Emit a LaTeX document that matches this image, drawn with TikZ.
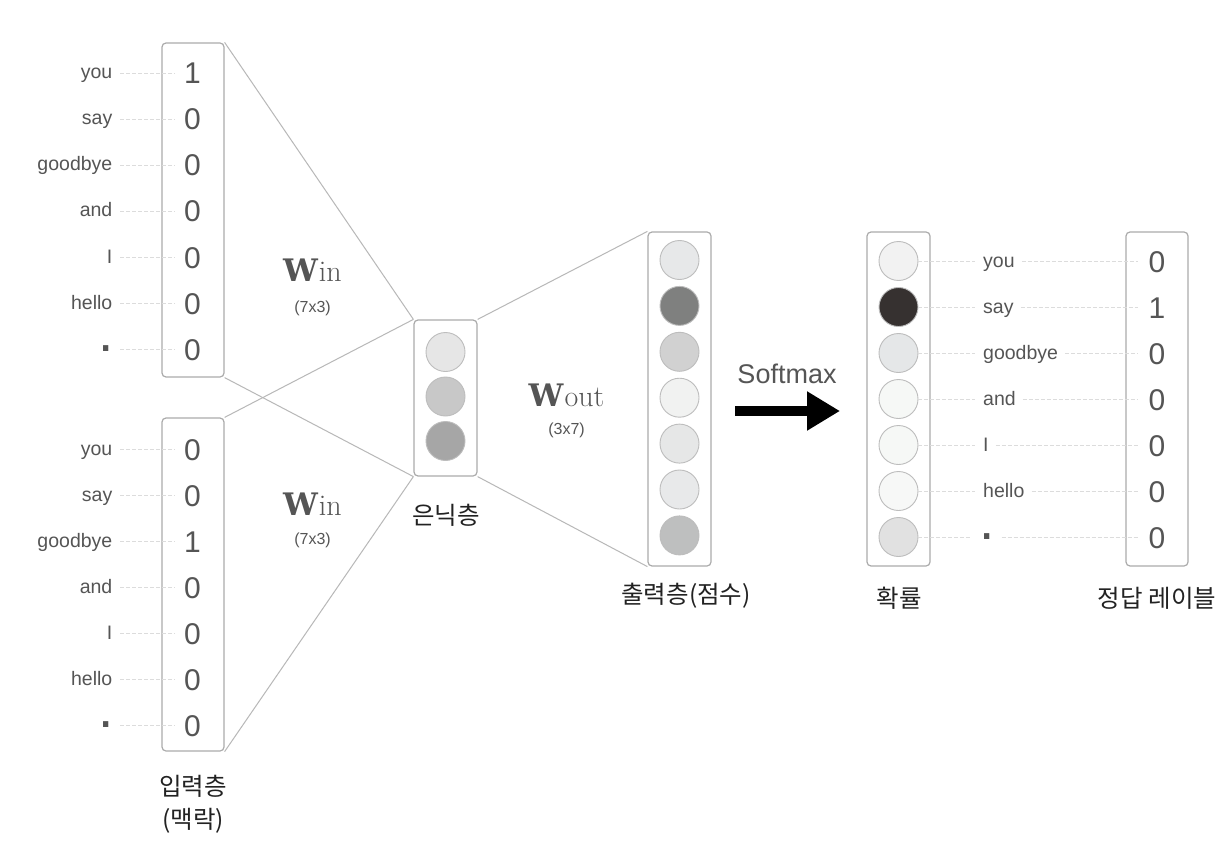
\documentclass[tikz,border=0pt]{standalone}
\usepackage{fontspec}
\setsansfont{Liberation Sans}
\newfontfamily\krfont{Noto Sans CJK KR}
\newfontfamily\wfont{DejaVu Serif}
\usetikzlibrary{arrows.meta}
\definecolor{txtc}{HTML}{555555}
\definecolor{boxc}{HTML}{ABABAB}
\definecolor{fanc}{HTML}{B8B8B8}
\definecolor{dashc}{HTML}{DCDCDC}
\definecolor{circc}{HTML}{BDBDBD}
\definecolor{korc}{HTML}{222222}
\tikzset{
  box/.style={draw=boxc, line width=1.2pt, rounded corners=4pt, minimum width=62pt, inner sep=0pt},
  neuron/.style={circle, draw=circc, line width=0.9pt, minimum size=39pt, inner sep=0pt},
  fan/.style={draw=fanc, line width=1pt},
  guide/.style={draw=dashc, line width=0.8pt, dash pattern=on 4pt off 2pt},
  lab/.style={font=\sffamily\fontsize{19.5}{20}\selectfont, text=txtc, inner sep=0pt, text height=14pt, text depth=2pt},
  dotlab/.style={font=\sffamily\fontsize{55}{55}\selectfont, text=txtc, inner sep=0pt, text height=5.5pt, text depth=0pt},
  dig/.style={font=\sffamily\fontsize{30}{30}\selectfont, text=txtc, inner sep=0pt, text height=24pt, text depth=2pt},
  kor/.style={font=\krfont\fontsize{24.5}{33}\selectfont, text=korc, align=center, inner sep=0pt},
  wlab/.style={text=txtc, inner sep=0pt},
  dimlab/.style={font=\sffamily\fontsize{16}{16}\selectfont, text=txtc, inner sep=0pt},
  smlab/.style={font=\sffamily\fontsize{27}{27}\selectfont, text=txtc, inner sep=0pt},
}
\newcommand{\wsym}[1]{{\wfont\fontsize{31}{31}\selectfont\bfseries W}\kern1pt{\fontsize{30}{30}\selectfont #1}}
\begin{document}
\begin{tikzpicture}[x=1pt,y=-1pt]
\fill[white] (0,0) rectangle (1230,842);
\useasboundingbox (0,0) rectangle (1230,842);

% boxes
\node[box, minimum height=334pt] (inT) at (193,210) {};
\node[box, minimum height=333pt] (inB) at (193,584.5) {};
\node[box, minimum width=63pt, minimum height=156pt] (hid) at (445.5,398) {};
\node[box, minimum width=63pt, minimum height=334pt] (outL) at (679.5,399) {};
\node[box, minimum width=63pt, minimum height=334pt] (prob) at (898.5,399) {};
\node[box, minimum height=334pt] (ans) at (1157,399) {};

% fan lines
\draw[fan] (inT.north east) -- (hid.north west);
\draw[fan] (inT.south east) -- (hid.south west);
\draw[fan] (inB.north east) -- (hid.north west);
\draw[fan] (inB.south east) -- (hid.south west);
\draw[fan] (hid.north east) -- (outL.north west);
\draw[fan] (hid.south east) -- (outL.south west);

% top input
\foreach \d [count=\i] in {1,0,0,0,0,0,0} {
  \node[dig] (ta\i) at (192.5,{73+46*(\i-1)}) {\d};
  \coordinate (tg\i) at (120,{73+46*(\i-1)});
  \draw[guide] (tg\i) -- ([xshift=-9pt]ta\i.west);
}
\foreach \w [count=\i] in {you,say,goodbye,and,I,hello} {
  \node[lab, anchor=east] (tl\i) at (112.5,{73+46*(\i-1)}) {\w};
}
\node[dotlab, anchor=east] (tl7) at (114,349) {.};

% bottom input
\foreach \d [count=\i] in {0,0,1,0,0,0,0} {
  \node[dig] (ba\i) at (192.5,{449+46*(\i-1)}) {\d};
  \coordinate (bg\i) at (120,{449+46*(\i-1)});
  \draw[guide] (bg\i) -- ([xshift=-9pt]ba\i.west);
}
\foreach \w [count=\i] in {you,say,goodbye,and,I,hello} {
  \node[lab, anchor=east] (bl\i) at (112.5,{449+46*(\i-1)}) {\w};
}
\node[dotlab, anchor=east] (bl7) at (114,725) {.};

% hidden layer
\foreach \c [count=\i] in {E6E6E6,C8C8C8,A6A6A6} {
  \definecolor{tmpc}{HTML}{\c}
  \node[neuron, fill=tmpc] (h\i) at (445.5,{352+44.5*(\i-1)}) {};
}

% output layer
\foreach \c [count=\i] in {E7E8E9,7F807F,D1D1D1,F1F2F1,E6E7E7,E8E9EA,BEBFBF} {
  \definecolor{tmpc}{HTML}{\c}
  \node[neuron, fill=tmpc] (o\i) at (679.5,{260+45.9*(\i-1)}) {};
}

% probability layer
\foreach \c [count=\i] in {F2F2F2,363130,E5E7E8,F6F8F6,F6F8F6,F7F8F7,E1E1E1} {
  \definecolor{tmpc}{HTML}{\c}
  \node[neuron, fill=tmpc] (p\i) at (898.5,{261+46*(\i-1)}) {};
}

% right labels and answers
\foreach \w [count=\i] in {you,say,goodbye,and,I,hello} {
  \node[lab, anchor=west] (rl\i) at (983,{261+46*(\i-1)}) {\w};
}
\node[dotlab, anchor=west] (rl7) at (979,537) {.};
\foreach \d [count=\i] in {0,1,0,0,0,0,0} {
  \node[dig] (rd\i) at (1157,{261+46*(\i-1)}) {\d};
  \draw[guide] (p\i.east) -- ([xshift=-8pt]rl\i.west);
  \draw[guide] ([xshift=7pt]rl\i.east) -- ([xshift=-10pt]rd\i.west);
}

% weight labels
\node[wlab, anchor=base] (w1) at (312.5,281) {\wsym{in}};
\node[dimlab] (d1) at (312.5,308) {(7x3)};
\node[wlab, anchor=base] (w2) at (312.5,515) {\wsym{in}};
\node[dimlab] (d2) at (312.5,540) {(7x3)};
\node[wlab, anchor=base] (w3) at (566.5,406) {\wsym{out}};
\node[dimlab] (d3) at (566.5,430) {(3x7)};

% softmax arrow
\node[smlab] (sm) at (787,374) {Softmax};
\coordinate (as) at (735,411);
\coordinate (ae) at (840,411);
\draw[line width=10pt, -{Triangle[length=33pt,width=37pt]}] (as) -- (ae);

% layer captions
\node[kor] (kIn) at (193,804) {입력층\\(맥락)};
\node[kor] (kHid) at (446,515) {은닉층};
\node[kor] (kOut) at (686,596) {출력층(점수)};
\node[kor] (kProb) at (899,598) {확률};
\node[kor] (kAns) at (1157,598) {정답 레이블};
\end{tikzpicture}
\end{document}
